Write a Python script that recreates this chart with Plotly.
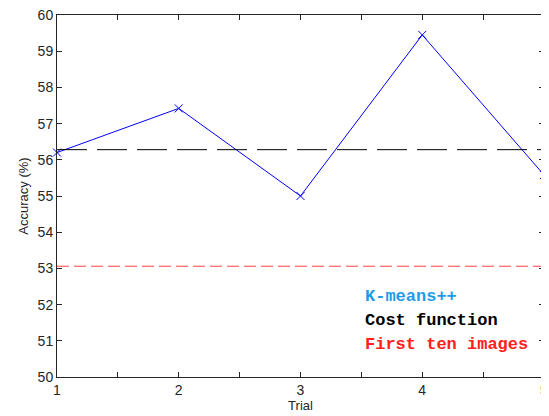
import plotly.graph_objects as go

trials = [1, 2, 3, 4, 5]
kmeans_acc = [56.2, 57.42, 55.0, 59.45, 55.58]
cost_function_acc = 56.28
first_ten_acc = 53.06

x_tickvals = [1, 1.5, 2, 2.5, 3, 3.5, 4, 4.5, 5]
x_ticktext = ["1", "", "2", "", "3", "", "4", "", "5"]
y_tickvals = [50, 51, 52, 53, 54, 55, 56, 57, 58, 59, 60]

fig = go.Figure()
fig.add_trace(go.Scatter(
    x=trials, y=kmeans_acc, mode="lines+markers", cliponaxis=False,
    line=dict(color="#0000ff", width=1),
    marker=dict(symbol="x-thin", size=8, line=dict(color="#0000ff", width=1)),
    showlegend=False))
fig.add_trace(go.Scatter(
    x=[trials[0], trials[-1]], y=[cost_function_acc] * 2, mode="lines",
    line=dict(color="black", width=1, dash="30px,10px"), showlegend=False))
fig.add_trace(go.Scatter(
    x=[trials[0], trials[-1]], y=[first_ten_acc] * 2, mode="lines",
    line=dict(color="#ff4040", width=1, dash="12px,5px"), showlegend=False))

labels = [("K-means++", "#1e9be8"), ("Cost function", "#000000"), ("First ten images", "#ff2020")]
ys = [52.22, 51.56, 50.91]
for (txt, col), yy in zip(labels, ys):
    fig.add_annotation(x=3.515, y=yy, text="<b>" + txt + "</b>", showarrow=False,
                       xanchor="left", yanchor="middle",
                       font=dict(family="Liberation Mono, Courier New, monospace", size=17, color=col))

axis_common = dict(showline=True, linecolor="#262626", linewidth=1, mirror="ticks",
                   ticks="inside", ticklen=5, tickcolor="#262626", showgrid=False, zeroline=False,
                   automargin=False, ticklabeloverflow="allow",
                   tickfont=dict(family="Liberation Sans, Arial", size=14, color="#262626"))
fig.update_xaxes(range=[1, 5], tickmode="array", tickvals=x_tickvals, ticktext=x_ticktext,
                 title=dict(text="Trial", standoff=4,
                            font=dict(family="Liberation Sans, Arial", size=13, color="#262626")),
                 **axis_common)
fig.update_yaxes(range=[50, 60], tickmode="array", tickvals=y_tickvals,
                 title=dict(text="Accuracy (%)", standoff=6,
                            font=dict(family="Liberation Sans, Arial", size=13, color="#262626")),
                 **axis_common)
# the page body adds an 8px offset, so the figure is sized and margined to compensate
fig.update_layout(width=541, height=408, margin=dict(l=49, r=5, t=7, b=39),
                  plot_bgcolor="white", paper_bgcolor="white")
fig.write_html("out.html")
